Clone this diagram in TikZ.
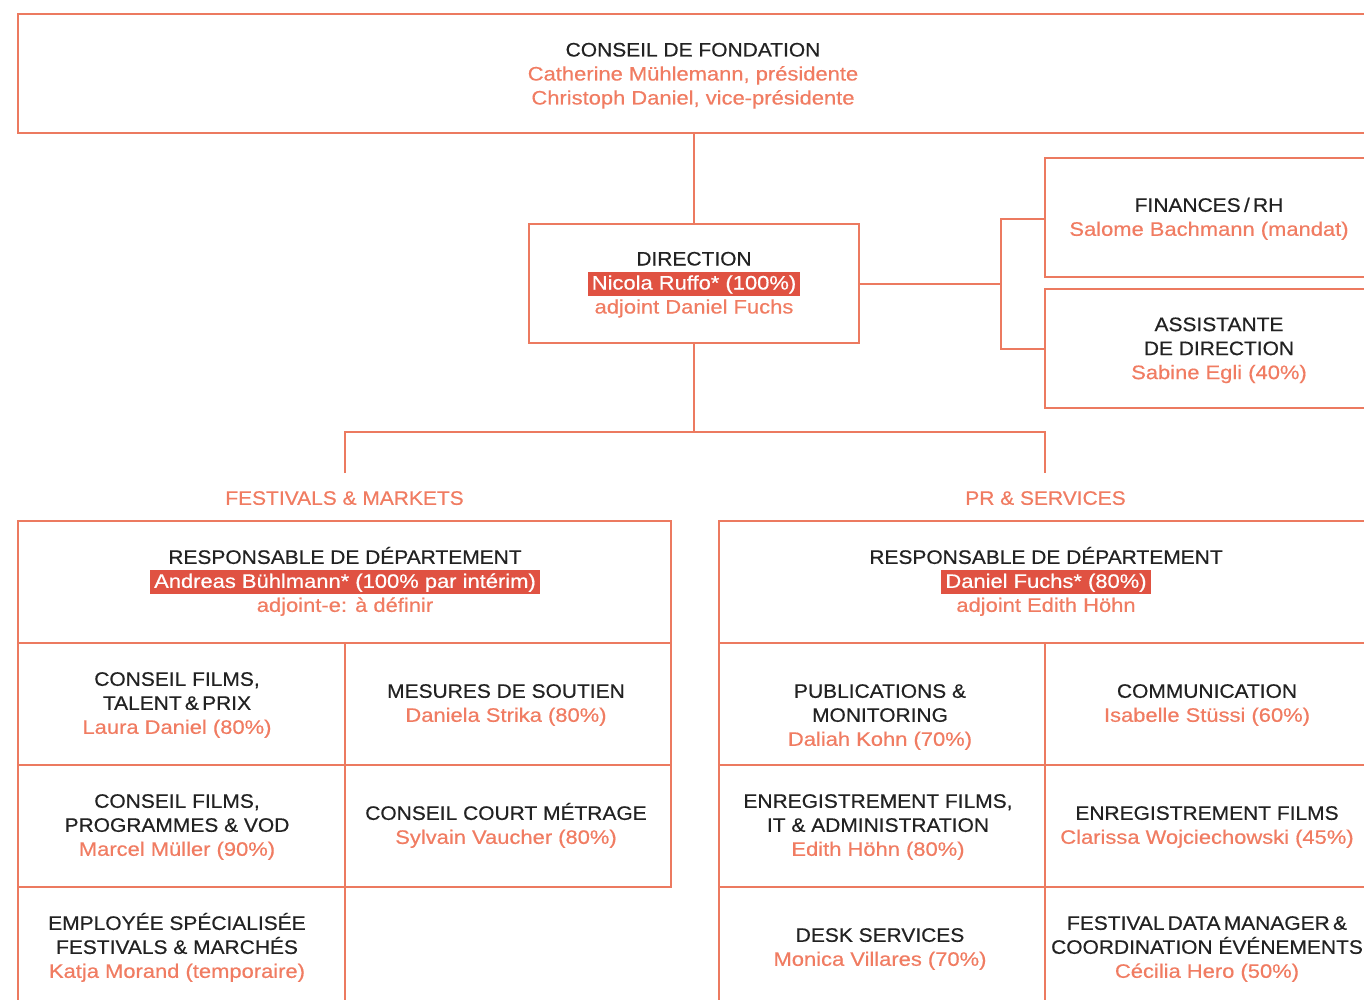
\documentclass[tikz,border=0pt]{standalone}
\usepackage{fontspec}
\usetikzlibrary{calc}
\setmainfont{Liberation Sans}[FakeStretch=1.075, FakeBold=0.5]
\newfontfamily\namefont{Liberation Sans}[FakeStretch=1.125, FakeBold=0.5]
\definecolor{lnc}{RGB}{236,122,96}
\definecolor{nmc}{RGB}{240,124,98}
\definecolor{hlc}{RGB}{224,82,66}
\definecolor{txc}{RGB}{34,34,34}
\setlength\fboxsep{0pt}
\lineskiplimit=-100pt
\newcommand\nm[1]{{\namefont\textcolor{nmc}{#1}}}
\newcommand\hl[1]{{\namefont\colorbox{hlc}{\rule[-6pt]{0pt}{24pt}\hspace{4pt}\textcolor{white}{#1}\hspace{4pt}}}}
\newcommand\orgfont{\fontsize{19.5}{24}\selectfont}
\tikzset{
  box/.style={draw=lnc, line width=2pt, rectangle, inner sep=0pt, outer sep=0pt, anchor=north west},
  txt/.style={align=center, inner sep=0pt, text=txc, font=\orgfont},
  conn/.style={draw=lnc, line width=2pt},
  lbl/.style={inner sep=0pt, text=nmc, font=\orgfont}
}
\begin{document}
\begin{tikzpicture}[x=1pt, y=-1pt]
\useasboundingbox (0,0) rectangle (1364,1000);
\clip (0,0) rectangle (1364,1000);
% boxes
\node[box, minimum width=1382pt, minimum height=119pt] (top) at (18,14) {};
\node[box, minimum width=330pt, minimum height=119pt] (dir) at (529,224) {};
\node[box, minimum width=360pt, minimum height=119pt] (fin) at (1045,158) {};
\node[box, minimum width=360pt, minimum height=119pt] (ass) at (1045,289) {};
\node[box, minimum width=653pt, minimum height=122pt] (lh) at (18,521) {};
\node[box, minimum width=327pt, minimum height=122pt] (l21) at (18,643) {};
\node[box, minimum width=326pt, minimum height=122pt] (l22) at (345,643) {};
\node[box, minimum width=327pt, minimum height=122pt] (l31) at (18,765) {};
\node[box, minimum width=326pt, minimum height=122pt] (l32) at (345,765) {};
\node[box, minimum width=327pt, minimum height=140pt] (l41) at (18,887) {};
\node[box, minimum width=690pt, minimum height=122pt] (rh) at (719,521) {};
\node[box, minimum width=326pt, minimum height=122pt] (r21) at (719,643) {};
\node[box, minimum width=360pt, minimum height=122pt] (r22) at (1045,643) {};
\node[box, minimum width=326pt, minimum height=122pt] (r31) at (719,765) {};
\node[box, minimum width=360pt, minimum height=122pt] (r32) at (1045,765) {};
\node[box, minimum width=326pt, minimum height=140pt] (r41) at (719,887) {};
\node[box, minimum width=360pt, minimum height=140pt] (r42) at (1045,887) {};
% connectors
\draw[conn] (dir.north) -- (dir.north |- top.south);
\coordinate (jr) at (1001,283.5);
\draw[conn] (dir.east) -- (jr);
\draw[conn] ($(fin.west)+(0,2)$) -- ($(fin.west -| jr)+(0,2)$) -- (ass.west -| jr) -- (ass.west);
\coordinate (jb) at (694,432);
\coordinate (fl) at (345,473);
\coordinate (pl) at (1045,473);
\draw[conn] (dir.south) -- (jb);
\draw[conn] (fl) |- (jb) -| (pl);
% labels
\node[lbl] (fm) at (344.5,500) {\strut FESTIVALS \& MARKETS};
\node[lbl] (ps) at (1045.5,500) {\strut PR \& SERVICES};
% texts
\node[txt] (ttop) at (693,75.7) {\strut CONSEIL DE FONDATION\\\strut\nm{Catherine Mühlemann, présidente}\\\strut\nm{Christoph Daniel, vice-présidente}};
\node[txt] (tdir) at (694,284.7) {\strut DIRECTION\\\strut\hl{Nicola Ruffo* (100\%)}\\\strut\nm{adjoint Daniel Fuchs}};
\node[txt] (tfin) at (1209,219) {\strut FINANCES\,/\,RH\\\strut\nm{Salome Bachmann (mandat)}};
\node[txt] (tass) at (1219,350.3) {\strut ASSISTANTE\\\strut DE DIRECTION\\\strut\nm{Sabine Egli (40\%)}};
\node[txt] (tlh) at (345,583) {\strut RESPONSABLE DE DÉPARTEMENT\\\strut\hl{Andreas Bühlmann* (100\% par intérim)}\\\strut\nm{adjoint-e: à définir}};
\node[txt] (trh) at (1046,583) {\strut RESPONSABLE DE DÉPARTEMENT\\\strut\hl{Daniel Fuchs* (80\%)}\\\strut\nm{adjoint Edith Höhn}};
\node[txt] (tl21) at (177,705) {\strut CONSEIL FILMS,\\\strut TALENT\,\&\,PRIX\\\strut\nm{Laura Daniel (80\%)}};
\node[txt] (tl22) at (506,705) {\strut MESURES DE SOUTIEN\\\strut\nm{Daniela Strika (80\%)}};
\node[txt] (tl31) at (177,827) {\strut CONSEIL FILMS,\\\strut PROGRAMMES \& VOD\\\strut\nm{Marcel Müller (90\%)}};
\node[txt] (tl32) at (506,827) {\strut CONSEIL COURT MÉTRAGE\\\strut\nm{Sylvain Vaucher (80\%)}};
\node[txt] (tl41) at (177,949) {\strut EMPLOYÉE SPÉCIALISÉE\\\strut FESTIVALS \& MARCHÉS\\\strut\nm{Katja Morand (temporaire)}};
\node[txt] (tr21) at (880,717) {\strut PUBLICATIONS \&\\\strut MONITORING\\\strut\nm{Daliah Kohn (70\%)}};
\node[txt] (tr22) at (1207,705) {\strut COMMUNICATION\\\strut\nm{Isabelle Stüssi (60\%)}};
\node[txt] (tr31) at (878,827) {\strut ENREGISTREMENT FILMS,\\\strut IT \& ADMINISTRATION\\\strut\nm{Edith Höhn (80\%)}};
\node[txt] (tr32) at (1207,827) {\strut ENREGISTREMENT FILMS\\\strut\nm{Clarissa Wojciechowski (45\%)}};
\node[txt] (tr41) at (880,949) {\strut DESK SERVICES\\\strut\nm{Monica Villares (70\%)}};
\node[txt] (tr42) at (1207,949) {\strut FESTIVAL\,DATA\,MANAGER\,\&\\\strut COORDINATION ÉVÉNEMENTS\\\strut\nm{Cécilia Hero (50\%)}};
\end{tikzpicture}
\end{document}
